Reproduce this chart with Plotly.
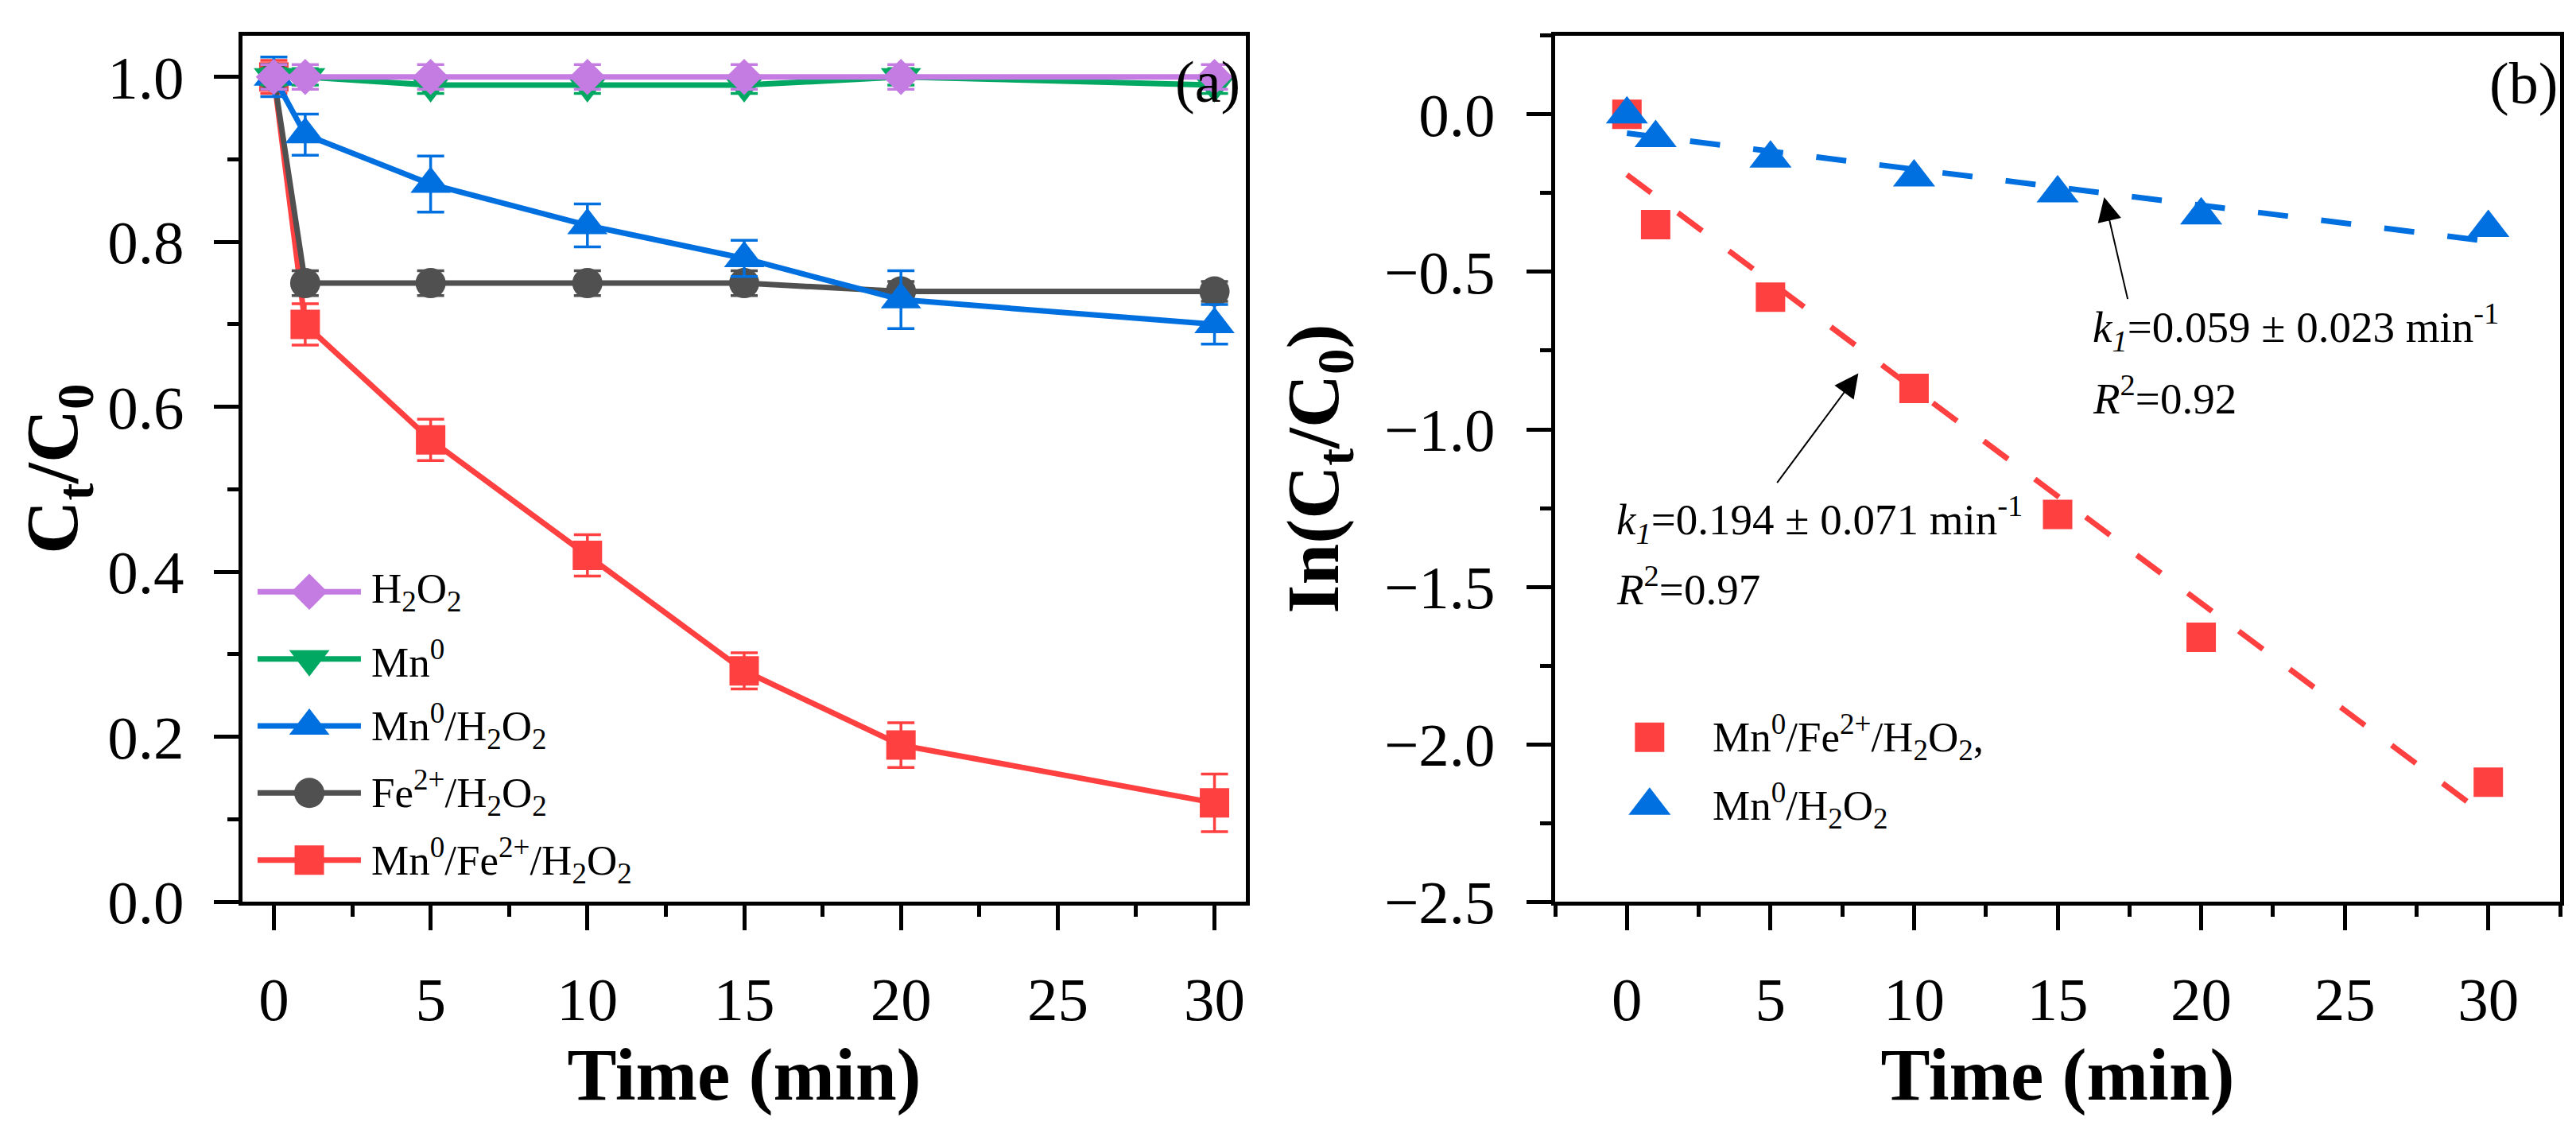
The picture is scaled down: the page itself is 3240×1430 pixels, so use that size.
import numpy as np
import plotly.graph_objects as go

# ---------------- data ----------------
time_min = [0, 1, 5, 10, 15, 20, 30]

series_names = ["H<sub>2</sub>O<sub>2</sub>",
                "Mn<sup>0</sup>",
                "Mn<sup>0</sup>/H<sub>2</sub>O<sub>2</sub>",
                "Fe<sup>2+</sup>/H<sub>2</sub>O<sub>2</sub>",
                "Mn<sup>0</sup>/Fe<sup>2+</sup>/H<sub>2</sub>O<sub>2</sub>"]

h2o2 = [1.00, 1.00, 1.00, 1.00, 1.00, 1.00, 1.00]
h2o2_err = [0.015, 0.015, 0.015, 0.015, 0.015, 0.015, 0.015]
mn0 = [1.00, 1.00, 0.99, 0.99, 0.99, 1.00, 0.99]
mn0_err = [0.01, 0.01, 0.01, 0.01, 0.01, 0.01, 0.01]
mn0_h2o2 = [1.00, 0.93, 0.87, 0.82, 0.78, 0.73, 0.70]
mn0_h2o2_err = [0.024, 0.025, 0.034, 0.026, 0.022, 0.035, 0.024]
fe_h2o2 = [1.00, 0.75, 0.75, 0.75, 0.75, 0.74, 0.74]
fe_h2o2_err = [0.015, 0.015, 0.015, 0.015, 0.015, 0.012, 0.012]
mn0_fe_h2o2 = [1.00, 0.70, 0.56, 0.42, 0.28, 0.19, 0.12]
mn0_fe_h2o2_err = [0.02, 0.025, 0.025, 0.025, 0.022, 0.027, 0.035]

# panel (b): ln(Ct/C0)
ln_mn0_fe_h2o2 = [0.0, -0.35, -0.58, -0.87, -1.27, -1.66, -2.12]
ln_mn0_h2o2 = [0.0, -0.075, -0.14, -0.20, -0.25, -0.32, -0.36]
b_names = ["Mn<sup>0</sup>/Fe<sup>2+</sup>/H<sub>2</sub>O<sub>2</sub>,",
           "Mn<sup>0</sup>/H<sub>2</sub>O<sub>2</sub>"]
fit_red_text = ["<i>k</i><sub><i>1</i></sub>=0.194 ± 0.071 min<sup>-1</sup>", "<i>R</i><sup>2</sup>=0.97"]
fit_blue_text = ["<i>k</i><sub><i>1</i></sub>=0.059 ± 0.023 min<sup>-1</sup>", "<i>R</i><sup>2</sup>=0.92"]

# ---------------- style ----------------
FONT = "Liberation Serif"
C_PURPLE = "#C47CE2"
C_GREEN = "#00A862"
C_BLUE = "#0070E0"
C_GRAY = "#505050"
C_RED = "#FF4040"

W, H = 3240, 1430
# panel pixel boxes
L1, R1 = 297, 1559
L2, R2 = 1948, 3212
TOP, BOT = 38, 1162

fig = go.Figure()

# draw order: red, gray, blue, green, purple (purple on top)
a_series = [
    (mn0_fe_h2o2, mn0_fe_h2o2_err, C_RED, "square", 37, series_names[4]),
    (fe_h2o2, fe_h2o2_err, C_GRAY, "circle", 38, series_names[3]),
    (mn0_h2o2, mn0_h2o2_err, C_BLUE, "triangle-up", 44, series_names[2]),
    (mn0, mn0_err, C_GREEN, "triangle-down", 44, series_names[1]),
    (h2o2, h2o2_err, C_PURPLE, "diamond", 35, series_names[0]),
]
for vals, errs, col, sym, size, name in a_series:
    fig.add_trace(go.Scatter(
        x=time_min, y=vals, name=name, mode="lines+markers",
        line=dict(color=col, width=7),
        marker=dict(color=col, symbol=sym, size=size, line=dict(width=0)),
        error_y=dict(type="data", array=errs, visible=True, color=col,
                     thickness=3.5, width=17),
        xaxis="x", yaxis="y", showlegend=False))

# panel (b): linear fits computed from the data
b_series = [
    (ln_mn0_fe_h2o2, C_RED, "square", 37, b_names[0]),
    (ln_mn0_h2o2, C_BLUE, "triangle-up", 46, b_names[1]),
]
for vals, col, sym, size, name in b_series:
    k, b0 = np.polyfit(time_min, vals, 1)
    fx = np.array([time_min[0], time_min[-1]], dtype=float)
    fig.add_trace(go.Scatter(
        x=fx, y=k * fx + b0, mode="lines",
        line=dict(color=col, width=7, dash="38px,42px"),
        xaxis="x2", yaxis="y2", showlegend=False, hoverinfo="skip"))
for vals, col, sym, size, name in b_series:
    fig.add_trace(go.Scatter(
        x=time_min, y=vals, name=name, mode="markers",
        marker=dict(color=col, symbol=sym, size=size, line=dict(width=0)),
        xaxis="x2", yaxis="y2", showlegend=False))

# ---------------- custom legends (panel-fraction overlay axes) ----------------
leg_a_rows = [0.3579, 0.2805, 0.2031, 0.1257, 0.0483]  # top to bottom
leg_a = list(reversed(a_series))  # purple, green, blue, gray, red
for (vals, errs, col, sym, size, name), yy in zip(leg_a, leg_a_rows):
    fig.add_trace(go.Scatter(x=[0.015, 0.118], y=[yy, yy], mode="lines",
                             line=dict(color=col, width=7),
                             xaxis="x3", yaxis="y3", showlegend=False, hoverinfo="skip"))
    fig.add_trace(go.Scatter(x=[0.0666], y=[yy], mode="markers",
                             marker=dict(color=col, symbol=sym, size=size, line=dict(width=0)),
                             xaxis="x3", yaxis="y3", showlegend=False, hoverinfo="skip"))
    fig.add_annotation(x=0.127, y=yy, xref="x3", yref="y3", text=name, showarrow=False,
                       xanchor="left", yanchor="middle",
                       font=dict(family=FONT, size=53, color="black"))

leg_b_rows = [0.19, 0.111]
for (vals, col, sym, size, name), yy in zip(b_series, leg_b_rows):
    fig.add_trace(go.Scatter(x=[0.094], y=[yy], mode="markers",
                             marker=dict(color=col, symbol=sym, size=size, line=dict(width=0)),
                             xaxis="x4", yaxis="y4", showlegend=False, hoverinfo="skip"))
    fig.add_annotation(x=0.155, y=yy, xref="x4", yref="y4", text=name, showarrow=False,
                       xanchor="left", yanchor="middle",
                       font=dict(family=FONT, size=53, color="black"))

# ---------------- annotations panel (b) ----------------
ann_font = dict(family=FONT, size=55, color="black")
fig.add_annotation(x=16.15, y=-0.675, xref="x2", yref="y2", text=fit_blue_text[0],
                   showarrow=False, xanchor="left", yanchor="middle", font=ann_font)
fig.add_annotation(x=16.15, y=-0.893, xref="x2", yref="y2", text=fit_blue_text[1],
                   showarrow=False, xanchor="left", yanchor="middle", font=ann_font)
fig.add_annotation(x=-0.42, y=-1.287, xref="x2", yref="y2", text=fit_red_text[0],
                   showarrow=False, xanchor="left", yanchor="middle", font=ann_font)
fig.add_annotation(x=-0.42, y=-1.499, xref="x2", yref="y2", text=fit_red_text[1],
                   showarrow=False, xanchor="left", yanchor="middle", font=ann_font)
# arrows
for hx, hy, tx, ty in [(16.62, -0.263, 17.45, -0.59), (8.06, -0.822, 5.2, -1.173)]:
    fig.add_annotation(x=hx, y=hy, ax=tx, ay=ty, xref="x2", yref="y2", axref="x2", ayref="y2",
                       text="", showarrow=True, arrowhead=2, arrowsize=3.0, arrowwidth=2,
                       arrowcolor="black", standoff=0, startstandoff=0)

# panel labels
fig.add_annotation(x=1554 / W, y=1 - 98 / H, xref="paper", yref="paper", text="(a)",
                   showarrow=False, xanchor="right", yanchor="middle",
                   font=dict(family=FONT, size=74, color="black"))
fig.add_annotation(x=3211 / W, y=1 - 100 / H, xref="paper", yref="paper", text="(b)",
                   showarrow=False, xanchor="right", yanchor="middle",
                   font=dict(family=FONT, size=74, color="black"))

# ---------------- axes ----------------
tickfont = dict(family=FONT, size=77, color="black")
titlefont = dict(family=FONT, size=93, color="black", weight="bold")
common = dict(showgrid=False, zeroline=False, showline=True, linecolor="black", linewidth=5,
              mirror=True, ticks="outside", ticklen=31, tickwidth=5, tickcolor="black",
              tickfont=tickfont)
minor_style = dict(ticks="outside", ticklen=14, tickwidth=5, tickcolor="black")

ydom = [1 - BOT / H, 1 - TOP / H]
hidden = dict(range=[0, 1], visible=False, showticklabels=False, ticks="",
              showgrid=False, zeroline=False)
fig.update_layout(
    width=W, height=H,
    margin=dict(l=0, r=0, t=0, b=0),
    paper_bgcolor="white", plot_bgcolor="white",
    font=dict(family=FONT, color="black"),
    xaxis=dict(domain=[L1 / W, R1 / W], range=[-1, 31], tick0=0, dtick=5,
               minor=dict(dtick=2.5, **minor_style), ticklabelstandoff=20,
               title=dict(text="Time (min)", font=titlefont, standoff=12),
               anchor="y", **common),
    yaxis=dict(domain=ydom, range=[0, 1.05], tick0=0, dtick=0.2, tickformat=".1f",
               minor=dict(dtick=0.1, **minor_style), ticklabelstandoff=22,
               title=dict(text="C<sub>t</sub>/C<sub>0</sub>", font=titlefont, standoff=8),
               anchor="x", **common),
    xaxis2=dict(domain=[L2 / W, R2 / W], range=[-2.5, 32.5], tick0=0, dtick=5,
                minor=dict(dtick=2.5, **minor_style), ticklabelstandoff=20,
                title=dict(text="Time (min)", font=titlefont, standoff=12),
                anchor="y2", **common),
    yaxis2=dict(domain=ydom, range=[-2.5, 0.25], tick0=0, dtick=0.5, tickformat=".1f",
                minor=dict(dtick=0.25, **minor_style), ticklabelstandoff=24,
                title=dict(text="In(C<sub>t</sub>/C<sub>0</sub>)", font=titlefont, standoff=28),
                anchor="x2", **common),
    xaxis3=dict(overlaying="x", anchor="y3", **hidden),
    yaxis3=dict(overlaying="y", anchor="x3", **hidden),
    xaxis4=dict(overlaying="x2", anchor="y4", **hidden),
    yaxis4=dict(overlaying="y2", anchor="x4", **hidden),
)

fig.write_html("out.html")
